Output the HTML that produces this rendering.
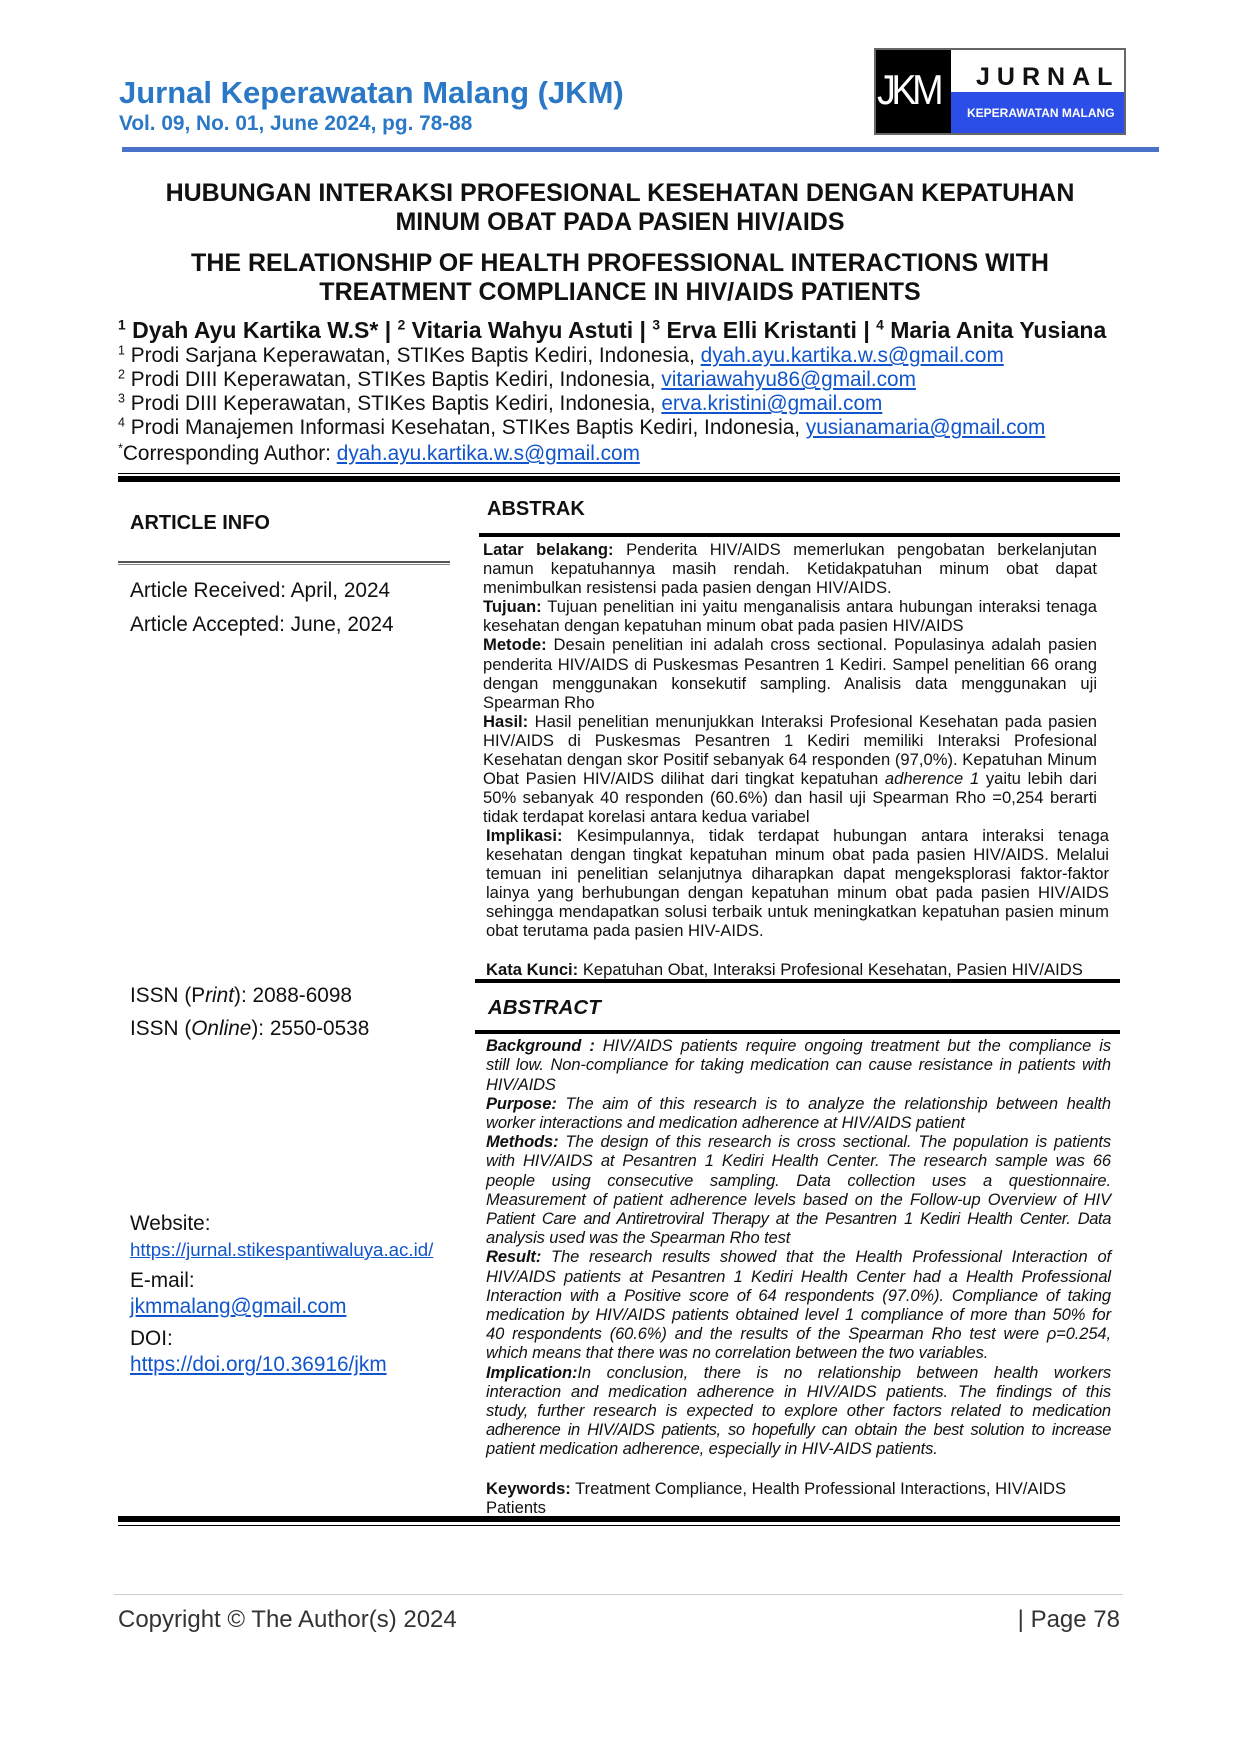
<!DOCTYPE html>
<html><head><meta charset="utf-8">
<style>
*{margin:0;padding:0;box-sizing:border-box}
body{width:1240px;height:1754px;background:#fff;position:relative;font-family:"Liberation Sans",Arial,sans-serif;color:#111;overflow:hidden}
.a{position:absolute;white-space:nowrap}
.c{position:absolute;left:0;width:1240px;text-align:center;font-weight:bold;font-size:25px;white-space:nowrap}
.l{position:absolute;white-space:nowrap;font-size:16.6px;line-height:18px}
.j{text-align:justify;text-align-last:justify}
.u{color:#1155cc;text-decoration:underline}
.r{position:absolute;background:#000}
sup{font-size:0.6em;vertical-align:0.6em;line-height:0}
.e{font-style:italic;font-size:16.5px;letter-spacing:-0.1px}
</style></head><body>

<div class="a" style="left:119px;top:75px;font-size:31px;font-weight:bold;color:#2a78c6">Jurnal Keperawatan Malang (JKM)</div>
<div class="a" style="left:119px;top:112px;font-size:20.8px;font-weight:bold;color:#2a78c6">Vol. 09, No. 01, June 2024, pg. 78-88</div>

<div class="a" style="left:874px;top:48px;width:252px;height:87px;border:2px solid #666;background:#fff"></div>
<div class="a" style="left:876px;top:50px;width:75px;height:83px;background:#000"></div>
<div class="a" style="left:951px;top:92px;width:173px;height:41px;background:#2a4ee6"></div>
<div class="a" style="left:877px;top:66px;font-size:42px;color:#fff;letter-spacing:-5px;transform:scaleX(0.9);transform-origin:left">JKM</div>
<div class="a" style="left:976px;top:63px;font-size:25px;font-weight:bold;letter-spacing:7px">JURNAL</div>
<div class="a" style="left:967px;top:106px;font-size:12px;font-weight:bold;color:#fff">KEPERAWATAN MALANG</div>
<div class="a" style="left:122px;top:147px;width:1037px;height:5px;background:#4a72c8"></div>

<div class="c" style="top:179px">HUBUNGAN INTERAKSI PROFESIONAL KESEHATAN DENGAN KEPATUHAN</div>
<div class="c" style="top:208px">MINUM OBAT PADA PASIEN HIV/AIDS</div>
<div class="c" style="top:249px">THE RELATIONSHIP OF HEALTH PROFESSIONAL INTERACTIONS WITH</div>
<div class="c" style="top:278px">TREATMENT COMPLIANCE IN HIV/AIDS PATIENTS</div>

<div class="a" style="left:118px;top:317px;font-size:23px;font-weight:bold"><sup>1</sup> Dyah Ayu Kartika W.S* | <sup>2</sup> Vitaria Wahyu Astuti | <sup>3</sup> Erva Elli Kristanti | <sup>4</sup> Maria Anita Yusiana</div>
<div class="a" style="left:118px;top:344px;font-size:20.8px"><sup>1</sup> Prodi Sarjana Keperawatan, STIKes Baptis Kediri, Indonesia, <span class="u">dyah.ayu.kartika.w.s@gmail.com</span></div>
<div class="a" style="left:118px;top:368px;font-size:20.8px"><sup>2</sup> Prodi DIII Keperawatan, STIKes Baptis Kediri, Indonesia, <span class="u">vitariawahyu86@gmail.com</span></div>
<div class="a" style="left:118px;top:392px;font-size:20.8px"><sup>3</sup> Prodi DIII Keperawatan, STIKes Baptis Kediri, Indonesia, <span class="u">erva.kristini@gmail.com</span></div>
<div class="a" style="left:118px;top:416px;font-size:20.8px"><sup>4</sup> Prodi Manajemen Informasi Kesehatan, STIKes Baptis Kediri, Indonesia, <span class="u">yusianamaria@gmail.com</span></div>
<div class="a" style="left:118px;top:442px;font-size:20.8px"><sup>*</sup>Corresponding Author: <span class="u">dyah.ayu.kartika.w.s@gmail.com</span></div>

<div class="r" style="left:118px;top:473px;width:1002px;height:1px"></div>
<div class="r" style="left:118px;top:476px;width:1002px;height:6px"></div>

<div class="a" style="left:130px;top:512px;font-size:20px;font-weight:bold">ARTICLE INFO</div>
<div class="a" style="left:118px;top:561px;width:332px;height:2px;background:#555"></div>
<div class="a" style="left:118px;top:564px;width:332px;height:1px;background:#888"></div>
<div class="a" style="left:130px;top:579px;font-size:20.8px">Article Received: April, 2024</div>
<div class="a" style="left:130px;top:613px;font-size:20.8px">Article Accepted: June, 2024</div>

<div class="a" style="left:487px;top:498px;font-size:20px;font-weight:bold">ABSTRAK</div>
<div class="r" style="left:479px;top:533px;width:641px;height:4px"></div>

<div class="l j" style="left:483px;width:614px;top:541px"><b>Latar belakang:</b> Penderita HIV/AIDS memerlukan pengobatan berkelanjutan</div>
<div class="l j" style="left:483px;width:614px;top:560px">namun kepatuhannya masih rendah. Ketidakpatuhan minum obat dapat</div>
<div class="l" style="left:483px;top:579px">menimbulkan resistensi pada pasien dengan HIV/AIDS.</div>
<div class="l j" style="left:483px;width:614px;top:598px"><b>Tujuan:</b> Tujuan penelitian ini yaitu menganalisis antara hubungan interaksi tenaga</div>
<div class="l" style="left:483px;top:617px">kesehatan dengan kepatuhan minum obat pada pasien HIV/AIDS</div>
<div class="l j" style="left:483px;width:614px;top:636px"><b>Metode:</b> Desain penelitian ini adalah cross sectional. Populasinya adalah pasien</div>
<div class="l j" style="left:483px;width:614px;top:656px">penderita HIV/AIDS di Puskesmas Pesantren 1 Kediri. Sampel penelitian 66 orang</div>
<div class="l j" style="left:483px;width:614px;top:675px">dengan menggunakan konsekutif sampling. Analisis data menggunakan uji</div>
<div class="l" style="left:483px;top:694px">Spearman Rho</div>
<div class="l j" style="left:483px;width:614px;top:713px"><b>Hasil:</b> Hasil penelitian menunjukkan Interaksi Profesional Kesehatan pada pasien</div>
<div class="l j" style="left:483px;width:614px;top:732px">HIV/AIDS di Puskesmas Pesantren 1 Kediri memiliki Interaksi Profesional</div>
<div class="l j" style="left:483px;width:614px;top:751px">Kesehatan dengan skor Positif sebanyak 64 responden (97,0%). Kepatuhan Minum</div>
<div class="l j" style="left:483px;width:614px;top:770px">Obat Pasien HIV/AIDS dilihat dari tingkat kepatuhan <i>adherence 1</i> yaitu lebih dari</div>
<div class="l j" style="left:483px;width:614px;top:789px">50% sebanyak 40 responden (60.6%) dan hasil uji Spearman Rho =0,254 berarti</div>
<div class="l" style="left:483px;top:808px">tidak terdapat korelasi antara kedua variabel</div>
<div class="l j" style="left:486px;width:623px;top:827px"><b>Implikasi:</b> Kesimpulannya, tidak terdapat hubungan antara interaksi tenaga</div>
<div class="l j" style="left:486px;width:623px;top:846px">kesehatan dengan tingkat kepatuhan minum obat pada pasien HIV/AIDS. Melalui</div>
<div class="l j" style="left:486px;width:623px;top:865px">temuan ini penelitian selanjutnya diharapkan dapat mengeksplorasi faktor-faktor</div>
<div class="l j" style="left:486px;width:623px;top:884px">lainya yang berhubungan dengan kepatuhan minum obat pada pasien HIV/AIDS</div>
<div class="l j" style="left:486px;width:623px;top:903px">sehingga mendapatkan solusi terbaik untuk meningkatkan kepatuhan pasien minum</div>
<div class="l" style="left:486px;top:922px">obat terutama pada pasien HIV-AIDS.</div>
<div class="l" style="left:486px;top:961px"><b>Kata Kunci:</b> Kepatuhan Obat, Interaksi Profesional Kesehatan, Pasien HIV/AIDS</div>
<div class="r" style="left:475px;top:979px;width:645px;height:4px"></div>

<div class="a" style="left:130px;top:984px;font-size:20.8px">ISSN (P<i>rint</i>): 2088-6098</div>
<div class="a" style="left:130px;top:1017px;font-size:20.8px">ISSN (<i>Online</i>): 2550-0538</div>

<div class="a" style="left:488px;top:996px;font-size:20.5px;font-weight:bold;font-style:italic">ABSTRACT</div>
<div class="r" style="left:475px;top:1030px;width:645px;height:4px"></div>

<div class="l j e" style="left:486px;width:625px;top:1037px"><b>Background :</b> HIV/AIDS patients require ongoing treatment but the compliance is</div>
<div class="l j e" style="left:486px;width:625px;top:1056px">still low. Non-compliance for taking medication can cause resistance in patients with</div>
<div class="l e" style="left:486px;top:1076px">HIV/AIDS</div>
<div class="l j e" style="left:486px;width:625px;top:1095px"><b>Purpose:</b> The aim of this research is to analyze the relationship between health</div>
<div class="l e" style="left:486px;top:1114px">worker interactions and medication adherence at HIV/AIDS patient</div>
<div class="l j e" style="left:486px;width:625px;top:1133px"><b>Methods:</b> The design of this research is cross sectional. The population is patients</div>
<div class="l j e" style="left:486px;width:625px;top:1152px">with HIV/AIDS at Pesantren 1 Kediri Health Center. The research sample was 66</div>
<div class="l j e" style="left:486px;width:625px;top:1172px">people using consecutive sampling. Data collection uses a questionnaire.</div>
<div class="l j e" style="left:486px;width:625px;top:1191px">Measurement of patient adherence levels based on the Follow-up Overview of HIV</div>
<div class="l j e" style="left:486px;width:625px;top:1210px;letter-spacing:-0.4px">Patient Care and Antiretroviral Therapy at the Pesantren 1 Kediri Health Center. Data</div>
<div class="l e" style="left:486px;top:1229px">analysis used was the Spearman Rho test</div>
<div class="l j e" style="left:486px;width:625px;top:1248px"><b>Result:</b> The research results showed that the Health Professional Interaction of</div>
<div class="l j e" style="left:486px;width:625px;top:1268px">HIV/AIDS patients at Pesantren 1 Kediri Health Center had a Health Professional</div>
<div class="l j e" style="left:486px;width:625px;top:1287px">Interaction with a Positive score of 64 respondents (97.0%). Compliance of taking</div>
<div class="l j e" style="left:486px;width:625px;top:1306px">medication by HIV/AIDS patients obtained level 1 compliance of more than 50% for</div>
<div class="l j e" style="left:486px;width:625px;top:1325px">40 respondents (60.6%) and the results of the Spearman Rho test were ρ=0.254,</div>
<div class="l e" style="left:486px;top:1344px">which means that there was no correlation between the two variables.</div>
<div class="l j e" style="left:486px;width:625px;top:1364px"><b>Implication:</b>In conclusion, there is no relationship between health workers</div>
<div class="l j e" style="left:486px;width:625px;top:1383px">interaction and medication adherence in HIV/AIDS patients. The findings of this</div>
<div class="l j e" style="left:486px;width:625px;top:1402px">study, further research is expected to explore other factors related to medication</div>
<div class="l j e" style="left:486px;width:625px;top:1421px;letter-spacing:-0.4px">adherence in HIV/AIDS patients, so hopefully can obtain the best solution to increase</div>
<div class="l e" style="left:486px;top:1440px">patient medication adherence, especially in HIV-AIDS patients.</div>
<div class="l" style="left:486px;top:1480px"><b>Keywords:</b> Treatment Compliance, Health Professional Interactions, HIV/AIDS</div>
<div class="l" style="left:486px;top:1499px">Patients</div>

<div class="a" style="left:130px;top:1212px;font-size:20.8px">Website:</div>
<div class="a u" style="left:130px;top:1239px;font-size:18.7px">https://jurnal.stikespantiwaluya.ac.id/</div>
<div class="a" style="left:130px;top:1269px;font-size:20.8px">E-mail:</div>
<div class="a u" style="left:130px;top:1295px;font-size:20.8px">jkmmalang@gmail.com</div>
<div class="a" style="left:130px;top:1327px;font-size:20.8px">DOI:</div>
<div class="a u" style="left:130px;top:1353px;font-size:20.8px">https://doi.org/10.36916/jkm</div>

<div class="r" style="left:118px;top:1516px;width:1002px;height:6px"></div>
<div class="r" style="left:118px;top:1525px;width:1002px;height:1px"></div>

<div class="a" style="left:114px;top:1594px;width:1009px;height:1px;background:#ccc"></div>
<div class="a" style="left:118px;top:1606px;font-size:24px;color:#333">Copyright © The Author(s) 2024</div>
<div class="a" style="right:120px;top:1606px;font-size:24px;color:#333">| Page 78</div>
</body></html>
